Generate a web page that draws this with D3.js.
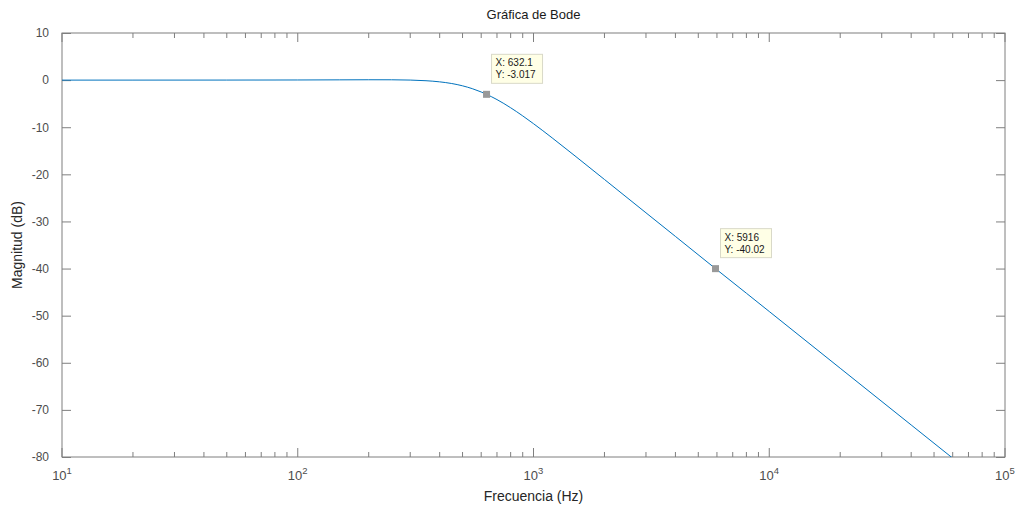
<!DOCTYPE html>
<html>
<head>
<meta charset="utf-8">
<script src="https://cdn.jsdelivr.net/npm/d3@7"></script>
<style>
  body { margin: 0; background: #fff; }
  svg { font-family: "Liberation Sans", Helvetica, Arial, sans-serif; }
  .tick text { fill: #4d4d4d; font-size: 12px; }
</style>
</head>
<body>
<div id="chart"></div>
<script>
// frequency (Hz) vs magnitude (dB)
var freqs = [10, 20, 50, 100, 150, 200, 250, 300, 350, 400, 450, 500, 550, 600, 632.1,
             700, 800, 900, 1000, 1200, 1500, 2000, 3000, 4000, 5916, 8000, 10000,
             20000, 40000, 60000];
var magDb = [0, 0.001, 0.008, 0.029, 0.056, 0.075, 0.067, 0.008, -0.129, -0.368, -0.726,
             -1.211, -1.815, -2.52, -3.017, -4.134, -5.867, -7.593, -9.248, -12.264,
             -16.088, -21.093, -28.166, -33.178, -40.02, -45.236, -49.115, -61.159,
             -73.2, -80.245];

// data tips
var tipX = [632.1, 5916];
var tipY = [-3.017, -40.02];
var tipLabels = [["X: 632.1", "Y: -3.017"], ["X: 5916", "Y: -40.02"]];

var yTicks = [10, 0, -10, -20, -30, -40, -50, -60, -70, -80];
var xTicks = [10, 100, 1000, 10000, 100000];

var svgWidth = 1018;
var svgHeight = 508;
var margin = { top: 33, right: 13, bottom: 51, left: 62 };
var width = svgWidth - margin.left - margin.right;
var height = svgHeight - margin.top - margin.bottom;

var svg = d3.select("#chart")
  .append("svg")
  .attr("width", svgWidth)
  .attr("height", svgHeight);

var g = svg.append("g")
  .attr("transform", `translate(${margin.left}, ${margin.top})`);

var x = d3.scaleLog().domain([10, 100000]).range([0, width]);
var y = d3.scaleLinear().domain([-80, 10]).range([height, 0]);

// minor ticks 2..9 in each decade
var minor = [];
for (var d = 10; d < 100000; d *= 10) {
  for (var k = 2; k <= 9; k++) minor.push(d * k);
}

var axisColor = "#7f7f7f";
var majorLen = 9;
var minorLen = 5;

// bottom axis
var bottomG = g.append("g").attr("transform", `translate(0, ${height})`);
bottomG.selectAll(".maj").data(xTicks).enter().append("line")
  .attr("x1", d => x(d)).attr("x2", d => x(d))
  .attr("y1", 0).attr("y2", -majorLen)
  .attr("stroke", axisColor);
bottomG.selectAll(".min").data(minor).enter().append("line")
  .attr("x1", d => x(d)).attr("x2", d => x(d))
  .attr("y1", 0).attr("y2", -minorLen)
  .attr("stroke", axisColor);
var xl = bottomG.selectAll(".lbl").data(xTicks).enter().append("text")
  .attr("x", d => x(d))
  .attr("y", 23)
  .attr("text-anchor", "middle")
  .attr("fill", "#4d4d4d")
  .attr("font-size", "13px");
xl.append("tspan").text("10");
xl.append("tspan")
  .attr("dy", "-6")
  .attr("font-size", "9.5px")
  .text(d => Math.round(Math.log10(d)));

// top axis ticks
var topG = g.append("g");
topG.selectAll(".maj").data(xTicks).enter().append("line")
  .attr("x1", d => x(d)).attr("x2", d => x(d))
  .attr("y1", 0).attr("y2", majorLen)
  .attr("stroke", axisColor);
topG.selectAll(".min").data(minor).enter().append("line")
  .attr("x1", d => x(d)).attr("x2", d => x(d))
  .attr("y1", 0).attr("y2", minorLen)
  .attr("stroke", axisColor);

// left / right axis
var leftAxis = d3.axisLeft(y).tickValues(yTicks).tickSize(-majorLen).tickPadding(13)
  .tickFormat(d => String(d));
var rightAxis = d3.axisRight(y).tickValues(yTicks).tickSize(-majorLen).tickFormat("");

g.append("g").call(leftAxis)
  .call(a => a.select(".domain").remove())
  .call(a => a.selectAll("line").attr("stroke", axisColor));
g.append("g").attr("transform", `translate(${width}, 0)`).call(rightAxis)
  .call(a => a.select(".domain").remove())
  .call(a => a.selectAll("line").attr("stroke", axisColor));

// box
g.append("rect")
  .attr("x", 0).attr("y", 0)
  .attr("width", width).attr("height", height)
  .attr("fill", "none")
  .attr("stroke", axisColor);

// curve
g.append("clipPath").attr("id", "clip")
  .append("rect").attr("width", width).attr("height", height);

var line = d3.line()
  .x((d, i) => x(freqs[i]))
  .y(d => y(d))
  .curve(d3.curveMonotoneX);

g.append("path")
  .datum(magDb)
  .attr("clip-path", "url(#clip)")
  .attr("d", line)
  .attr("fill", "none")
  .attr("stroke", "#0072bd")
  .attr("stroke-width", 1);

// data tips
tipX.forEach(function(f, i) {
  var px = x(f), py = y(tipY[i]);
  g.append("rect")
    .attr("x", px - 3.5).attr("y", py - 3.5)
    .attr("width", 7).attr("height", 7)
    .attr("fill", "#999999");
  var bx = px + 5, by = py - 40;
  g.append("rect")
    .attr("x", bx).attr("y", by)
    .attr("width", 51).attr("height", 29)
    .attr("fill", "#ffffe6")
    .attr("stroke", "#d9d9c8");
  tipLabels[i].forEach(function(t, j) {
    g.append("text")
      .attr("x", bx + 4)
      .attr("y", by + 12 + j * 12)
      .attr("font-size", "10px")
      .attr("fill", "#1a1a1a")
      .text(t);
  });
});

// labels
svg.append("text")
  .attr("x", margin.left + width / 2)
  .attr("y", 19)
  .attr("text-anchor", "middle")
  .attr("font-size", "13px")
  .attr("fill", "#1a1a1a")
  .text("Gráfica de Bode");

svg.append("text")
  .attr("x", margin.left + width / 2)
  .attr("y", 501)
  .attr("text-anchor", "middle")
  .attr("font-size", "14px")
  .attr("fill", "#262626")
  .text("Frecuencia (Hz)");

svg.append("text")
  .attr("transform", `translate(22, ${margin.top + height / 2}) rotate(-90)`)
  .attr("text-anchor", "middle")
  .attr("font-size", "14px")
  .attr("fill", "#262626")
  .text("Magnitud (dB)");
</script>
</body>
</html>
